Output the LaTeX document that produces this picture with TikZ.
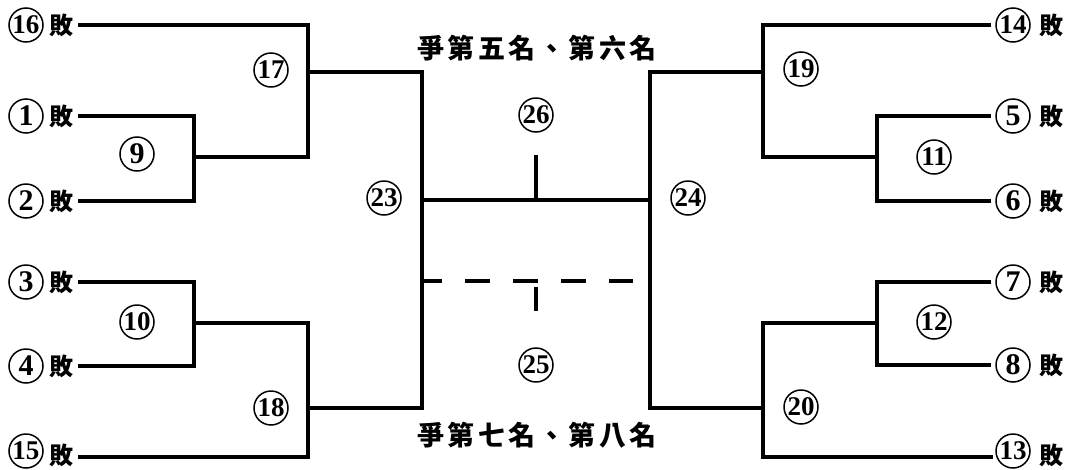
\documentclass[tikz,border=0pt]{standalone}
\usepackage{fontspec}
\setmainfont{Liberation Serif}
\newfontfamily\cjk{Noto Sans CJK TC}
\newfontfamily\cjkwide{Noto Sans CJK TC}[LetterSpace=12]
\usepackage{tikz}

% circled game number: one digit larger than two digits
\newcommand{\gno}[1]{\ifnum#1<10 \fontsize{30}{30}\selectfont\else\fontsize{27}{27}\selectfont\fi#1}

\begin{document}
\begin{tikzpicture}[
        x=1pt, y=-1pt,
        game/.style={circle, draw, line width=1.5pt, minimum size=34pt, inner sep=0pt, font=\bfseries},
        loss/.style={inner sep=0pt, font=\cjk\bfseries\fontsize{24}{24}\selectfont},
        title/.style={inner sep=0pt, font=\cjkwide\bfseries\fontsize{27}{27}\selectfont},
        bracket/.style={line width=4.5pt, line join=miter, line cap=butt}
    ]
        \useasboundingbox (0,0) rectangle (1068,469);

        % Left entries
        \node[game] (n16) at (26,25) {\gno{16}};  \node[loss] (l16) at (61,25) {敗};
        \node[game] (n1) at (26,116) {\gno{1}};   \node[loss] (l1) at (61,116) {敗};
        \node[game] (n2) at (26,201) {\gno{2}};   \node[loss] (l2) at (61,201) {敗};
        \node[game] (n3) at (26,282) {\gno{3}};   \node[loss] (l3) at (61,282) {敗};
        \node[game] (n4) at (26,366) {\gno{4}};   \node[loss] (l4) at (61,366) {敗};
        \node[game] (n15) at (26,451) {\gno{15}}; \node[loss] (l15) at (61,455) {敗};

        % Right entries
        \node[game] (n14) at (1013,25) {\gno{14}}; \node[loss] (l14) at (1051,25) {敗};
        \node[game] (n5) at (1013,116) {\gno{5}};  \node[loss] (l5) at (1051,116) {敗};
        \node[game] (n6) at (1013,201) {\gno{6}};  \node[loss] (l6) at (1051,201) {敗};
        \node[game] (n7) at (1013,282) {\gno{7}};  \node[loss] (l7) at (1051,282) {敗};
        \node[game] (n8) at (1013,365) {\gno{8}};  \node[loss] (l8) at (1051,365) {敗};
        \node[game] (n13) at (1013,451) {\gno{13}}; \node[loss] (l13) at (1051,455) {敗};

        % Game numbers
        \node[game] (g9) at (137,154) {\gno{9}};
        \node[game] (g10) at (137,322) {\gno{10}};
        \node[game] (g17) at (271,70) {\gno{17}};
        \node[game] (g18) at (271,408) {\gno{18}};
        \node[game] (g23) at (384,198) {\gno{23}};
        \node[game] (g26) at (536,115) {\gno{26}};
        \node[game] (g25) at (536,365) {\gno{25}};
        \node[game] (g24) at (688,198) {\gno{24}};
        \node[game] (g19) at (801,69) {\gno{19}};
        \node[game] (g11) at (934,157) {\gno{11}};
        \node[game] (g12) at (934,322) {\gno{12}};
        \node[game] (g20) at (801,407) {\gno{20}};

        % Titles
        \node[title] (fifth) at (537,48) {爭第五名、第六名};
        \node[title] (seventh) at (537,435) {爭第七名、第八名};

        % Junctions
        \coordinate (j9) at (194,157);
        \coordinate (j10) at (194,323);
        \coordinate (j17) at (308,72);
        \coordinate (j18) at (308,408);
        \coordinate (j23) at (422,200);
        \coordinate (j11) at (877,157);
        \coordinate (j12) at (877,323);
        \coordinate (j19) at (763,72);
        \coordinate (j20) at (763,408);
        \coordinate (j24) at (650,200);
        \coordinate (t26) at (536,155);
        \coordinate (d25a) at (422,281);
        \coordinate (d25b) at (633,281);
        \coordinate (t25) at (536,311);
        \coordinate (e15) at (78,457);
        \coordinate (e13) at (993,457);

        % Left brackets
        \draw[bracket] ([xshift=5]l1.east) -| (j9) |- ([xshift=5]l2.east);
        \draw[bracket] ([xshift=5]l3.east) -| (j10) |- ([xshift=5]l4.east);
        \draw[bracket] (j9) -| (j17) |- ([xshift=5]l16.east);
        \draw[bracket] (j10) -| (j18) |- (e15);
        \draw[bracket] (j17) -| (j23) |- (j18);

        % Right brackets
        \draw[bracket] ([xshift=-4]n5.west) -| (j11) |- ([xshift=-4]n6.west);
        \draw[bracket] ([xshift=-4]n7.west) -| (j12) |- ([xshift=-4]n8.west);
        \draw[bracket] (j11) -| (j19) |- ([xshift=-4]n14.west);
        \draw[bracket] (j12) -| (j20) |- (e13);
        \draw[bracket] (j19) -| (j24) |- (j20);

        % Places 5-8
        \draw[bracket] (j23) -- (j24);
        \draw[bracket] (t26) -- (t26 |- j23);
        \draw[bracket, dash pattern=on 25pt off 23pt, dash phase=5pt] (d25a) -- (d25b);
        \draw[bracket, dash pattern=on 0pt off 6pt on 24pt off 30pt] (t25 |- d25a) -- (t25);
    \end{tikzpicture}
\end{document}
